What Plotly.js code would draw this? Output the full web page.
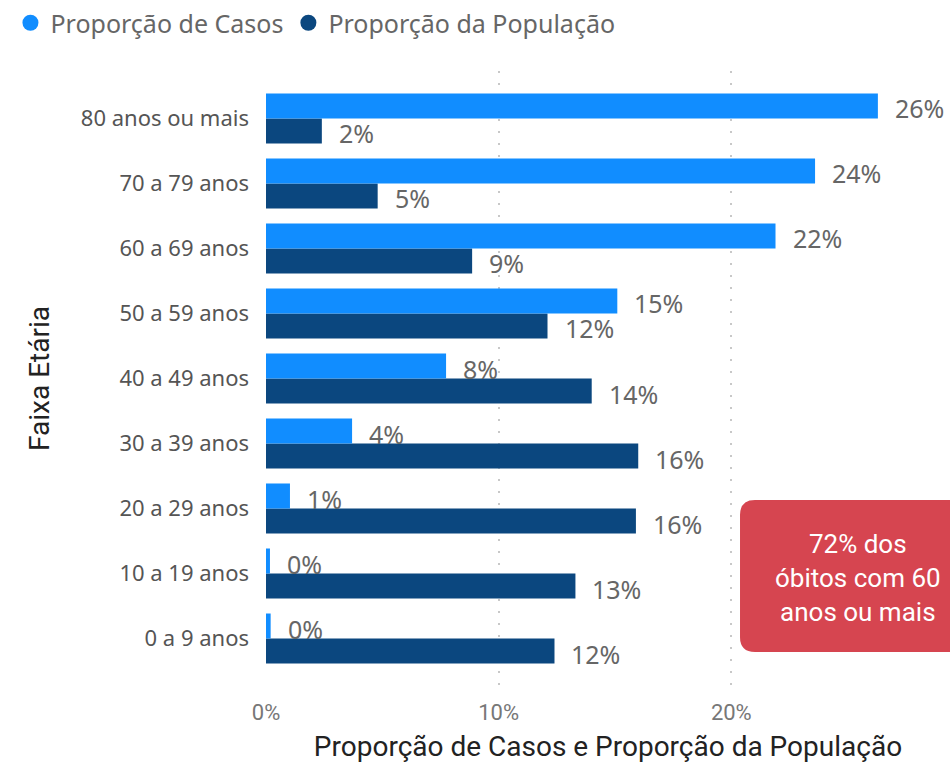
<!DOCTYPE html>
<html>
<head>
<meta charset="utf-8">
<script src="https://cdn.plot.ly/plotly-3.0.1.min.js"></script>
<style>html,body{margin:0;padding:0;background:#fff;}#chart{width:950px;height:763px;}</style>
</head>
<body>
<div id="chart"></div>
<script>
// Data (percent)
const faixas = ["0 a 9 anos","10 a 19 anos","20 a 29 anos","30 a 39 anos","40 a 49 anos","50 a 59 anos","60 a 69 anos","70 a 79 anos","80 anos ou mais"];
const propCasos = [0.2, 0.17, 1.03, 3.7, 7.74, 15.1, 21.9, 23.6, 26.3];
const propPopulacao = [12.4, 13.3, 15.9, 16.0, 14.0, 12.1, 8.86, 4.8, 2.4];
const xTicks = [0, 10, 20];
const nomeCasos = "Proporção de Casos";
const nomePop = "Proporção da População";
const notaTexto = "72% dos<br>óbitos com 60<br>anos ou mais";

const cCasos = "#118DFF";
const cPop = "#0B477F";
const segoe = "'Noto Sans', 'Open Sans', sans-serif";
const din = "Roboto, 'DejaVu Sans Condensed', sans-serif";

const traces = [
  {type:"bar", orientation:"h", name:nomePop, y:faixas, x:propPopulacao, marker:{color:cPop}, showlegend:false, hoverinfo:"skip"},
  {type:"bar", orientation:"h", name:nomeCasos, y:faixas, x:propCasos, marker:{color:cCasos}, showlegend:false, hoverinfo:"skip"},
  {type:"scatter", mode:"markers", name:nomeCasos, x:[null], y:[null], marker:{color:cCasos, size:20, symbol:"circle"}},
  {type:"scatter", mode:"markers", name:nomePop, x:[null], y:[null], marker:{color:cPop, size:20, symbol:"circle"}}
];

const annotations = [];
faixas.forEach((f,i)=>{
  annotations.push({x:propCasos[i], y:f, xref:"x", yref:"y", text:Math.round(propCasos[i])+"%", showarrow:false, xanchor:"left", yanchor:"middle", xshift:15, yshift:10, font:{family:segoe, size:25, color:"#666"}});
  annotations.push({x:propPopulacao[i], y:f, xref:"x", yref:"y", text:Math.round(propPopulacao[i])+"%", showarrow:false, xanchor:"left", yanchor:"middle", xshift:15, yshift:-15, font:{family:segoe, size:25, color:"#666"}});
});
annotations.push({x:0.8655, y:0.175, xref:"paper", yref:"paper", text:notaTexto, showarrow:false, xanchor:"center", yanchor:"middle", align:"center", font:{family:din, size:26, color:"#fff"}});

const x0=0.693, x1=1.06, yTop=0.3024, yBot=0.0553, rx=0.0219, ry=0.0244;
const path = `M ${x0+rx},${yTop} L ${x1},${yTop} L ${x1},${yBot} L ${x0+rx},${yBot} Q ${x0},${yBot} ${x0},${yBot+ry} L ${x0},${yTop-ry} Q ${x0},${yTop} ${x0+rx},${yTop} Z`;

const layout = {
  width:950, height:763,
  margin:{l:266, r:0, t:71, b:77},
  paper_bgcolor:"#fff", plot_bgcolor:"#fff",
  barmode:"group", bargap:0.23, bargroupgap:0,
  showlegend:true,
  legend:{orientation:"h", xref:"container", yref:"container", x:0.011, y:1.0, xanchor:"left", yanchor:"top", font:{family:segoe, size:25, color:"#666"}, itemwidth:30, tracegroupgap:0},
  xaxis:{range:[0,29.4], tickvals:xTicks, ticktext:xTicks.map(v=>v+"%"), showgrid:true, gridcolor:"#c8c8c8", griddash:"2px,10px", gridwidth:2, zeroline:false, showline:false, ticklabelstandoff:11, tickfont:{family:din, size:22, color:"#777"},
    title:{text:"Proporção de Casos e Proporção da População", font:{family:din, size:28, color:"#222"}, standoff:16}, fixedrange:true},
  yaxis:{type:"category", categoryorder:"array", categoryarray:faixas, range:[-0.73,8.73], showgrid:false, zeroline:false, showline:false, ticklabelstandoff:16, tickfont:{family:segoe, size:22, color:"#555"},
    title:{text:"Faixa Etária", font:{family:din, size:28, color:"#222"}, standoff:23}, fixedrange:true},
  shapes:[{type:"path", xref:"paper", yref:"paper", path:path, fillcolor:"#D64550", line:{width:0}, layer:"above"}],
  annotations:annotations
};

Plotly.newPlot("chart", traces, layout, {displayModeBar:false, staticPlot:true});
</script>
</body>
</html>
